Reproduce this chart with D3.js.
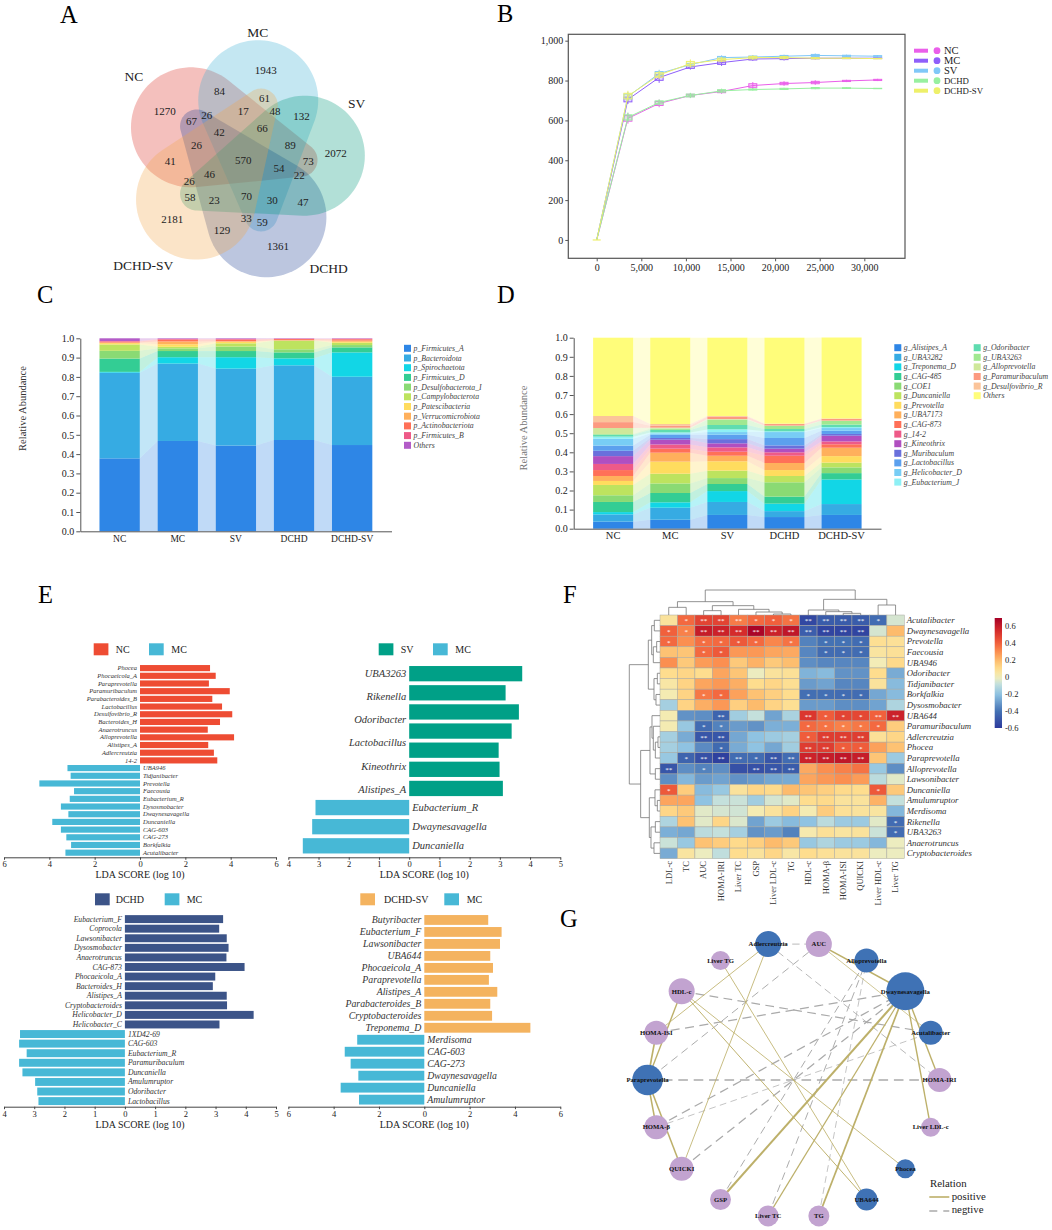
<!DOCTYPE html>
<html>
<head>
<meta charset="utf-8">
<script src="https://cdn.jsdelivr.net/npm/d3@7"></script>
<style>
  body { margin: 0; background: #fff; }
  svg { display: block; font-family: "Liberation Serif", serif; }
  text { fill: #222; }
</style>
</head>
<body>
<div id="chart"></div>
<script>
// A - venn
const vennSets = ['MC', 'SV', 'DCHD', 'DCHD-SV', 'NC']
const vennColors = ['#3dafd4', '#00977c', '#204194', '#f2a548', '#da2d23']
const vennSingle = [1943, 2072, 1361, 2181, 1270]
const vennOuter = [84, 132, 47, 129, 41]
const vennTips = [61, 73, 59, 58, 67]
const vennSide = [26, 48, 22, 33, 26]
const vennInner = [17, 89, 30, 23, 26]
const vennCore = [42, 66, 54, 70, 46]
const vennAll = 570

// B - rarefaction
const depths = [0, 3500, 7000, 10500, 14000, 17500, 21000, 24500, 28000, 31500]
const rareGroups = ['NC', 'MC', 'SV', 'DCHD', 'DCHD-SV']
const rareNC = [0, 610, 685, 725, 745, 775, 785, 790, 798, 803]
const rareMC = [0, 705, 815, 868, 890, 908, 910, 912, 912, 912]
const rareSV = [0, 720, 835, 880, 915, 918, 922, 926, 924, 922]
const rareDCHD = [0, 615, 690, 725, 748, 755, 758, 762, 762, 760]
const rareDCHDSV = [0, 722, 828, 885, 905, 915, 915, 912, 912, 910]
const spreadNC = [0, 14, 10, 6, 6, 9, 6, 6, 3, 3]
const spreadMC = [0, 12, 14, 7, 9, 5, 5, 3, 2, 2]
const spreadSV = [0, 12, 10, 6, 6, 5, 4, 5, 3, 3]
const spreadDCHD = [0, 13, 8, 7, 6, 3, 3, 3, 2, 1]
const spreadDCHDSV = [0, 14, 11, 11, 7, 6, 5, 3, 2, 1]
const rareColors = ['#ea5fea', '#8f5ffa', '#80c8f8', '#98f0a0', '#eef06a']

// C - phyla
const groups = ['NC', 'MC', 'SV', 'DCHD', 'DCHD-SV']
const phyla = ['p_Firmicutes_A', 'p_Bacteroidota', 'p_Spirochaetota', 'p_Firmicutes_D', 'p_Desulfobacterota_I',
  'p_Campylobacterota', 'p_Patescibacteria', 'p_Verrucomicrobiota', 'p_Actinobacteriota', 'p_Firmicutes_B', 'Others']
const phylaNC = [.378, .444, .004, .069, .04, .033, .007, .003, .005, .003, .014]
const phylaMC = [.468, .401, .033, .032, .014, .008, .013, .015, .009, .004, .003]
const phylaSV = [.444, .399, .059, .032, .023, .017, .008, .003, .008, .004, .003]
const phylaDCHD = [.473, .387, .036, .031, .016, .045, .001, .001, .006, .002, .002]
const phylaDCHDSV = [.447, .354, .126, .026, .012, .012, .005, .006, .007, .003, .002]
const phylaColors = ['#2e86e6', '#36abe3', '#12d6e6', '#33cd94', '#8ada74', '#bde35f', '#ffdc5e', '#ffb05c', '#ff7058', '#ee5a88', '#b35cc8']

// D - genera
const genera = ['g_Alistipes_A', 'g_UBA3282', 'g_Treponema_D', 'g_CAG-485', 'g_COE1', 'g_Duncaniella', 'g_Prevotella',
  'g_UBA7173', 'g_CAG-873', 'g_14-2', 'g_Kineothrix', 'g_Muribaculum', 'g_Lactobacillus', 'g_Helicobacter_D',
  'g_Eubacterium_J', 'g_Odoribacter', 'g_UBA3263', 'g_Alloprevotella', 'g_Paramuribaculum', 'g_Desulfovibrio_R', 'Others']
const generaNC = [.037, .038, .012, .053, .035, .054, .021, .026, .031, .032, .041, .028, .027, .036, .011, .010, .004, .031, .031, .032, .41]
const generaMC = [.047, .063, .028, .049, .050, .051, .063, .047, .021, .022, .025, .009, .017, .007, .005, .013, .007, .005, .010, .009, .452]
const generaSV = [.072, .068, .057, .037, .031, .039, .049, .029, .021, .023, .021, .022, .023, .014, .014, .023, .028, .003, .012, .004, .41]
const generaDCHD = [.061, .031, .039, .037, .075, .033, .031, .037, .038, .018, .019, .017, .039, .031, .004, .012, .016, .002, .008, .002, .45]
const generaDCHDSV = [.072, .057, .129, .033, .030, .025, .034, .044, .018, .015, .030, .009, .017, .014, .005, .013, .020, .001, .009, .002, .424]
const generaColors = ['#2e86e6', '#36abe3', '#12d6e6', '#33cd94', '#8ada74', '#bde35f', '#ffdc5e', '#ffb05c', '#ff7058', '#ee5a88',
  '#b04fc0', '#6a70dc', '#5ca0ee', '#78cdf5', '#8ef0f5', '#5fdcb0', '#a0e890', '#cfe89a', '#fc9a80', '#fbc49a', '#fffd7a']

// E - LDA
const ldaNames1 = ['Phocea', 'Phocaeicola_A', 'Paraprevotella', 'Paramuribaculum', 'Parabacteroides_B', 'Lactobacillus', 'Desulfovibrio_R',
  'Bacteroides_H', 'Anaerotruncus', 'Alloprevotella', 'Alistipes_A', 'Adlercreutzia', '14-2']
const ldaScores1 = [3.09, 3.34, 3.04, 3.96, 3.19, 3.62, 4.07, 3.53, 2.99, 4.15, 3.01, 3.26, 3.41]
const ldaMcNames1 = ['UBA946', 'Tidjanibacter', 'Prevotella', 'Faecousia', 'Eubacterium_R', 'Dysosmobacter', 'Dwaynesavagella', 'Duncaniella',
  'CAG-603', 'CAG-273', 'Borkfalkia', 'Acutalibacter']
const ldaMcScores1 = [3.2, 3.06, 4.44, 2.91, 3.1, 3.49, 3.16, 3.87, 3.49, 3.25, 3.04, 3.29]

const ldaNames2 = ['UBA3263', 'Rikenella', 'Odoribacter', 'Lactobacillus', 'Kineothrix', 'Alistipes_A']
const ldaScores2 = [3.74, 3.19, 3.63, 3.39, 2.96, 2.99, 3.10]
const ldaMcNames2 = ['Eubacterium_R', 'Dwaynesavagella', 'Duncaniella']
const ldaMcScores2 = [3.1, 3.21, 3.52]

const ldaNames3 = ['Eubacterium_F', 'Coprocola', 'Lawsonibacter', 'Dysosmobacter', 'Anaerotruncus', 'CAG-873', 'Phocaeicola_A', 'Bacteroides_H',
  'Alistipes_A', 'Cryptobacteroides', 'Helicobacter_D', 'Helicobacter_C']
const ldaScores3 = [3.25, 3.12, 3.37, 3.43, 3.36, 3.96, 2.99, 2.91, 3.37, 3.38, 4.26, 3.13]
const ldaMcNames3 = ['1XD42-69', 'CAG-603', 'Eubacterium_R', 'Paramuribaculum', 'Duncaniella', 'Amulumruptor', 'Odoribacter', 'Lactobacillus']
const ldaMcScores3 = [3.47, 3.5, 3.25, 3.5, 3.39, 2.97, 2.9, 2.86]

const ldaNames4 = ['Butyribacter', 'Eubacterium_F', 'Lawsonibacter', 'UBA644', 'Phocaeicola_A', 'Paraprevotella', 'Alistipes_A', 'Parabacteroides_B',
  'Cryptobacteroides', 'Treponema_D']
const ldaScores4 = [2.82, 3.41, 3.34, 2.91, 3.03, 2.85, 3.22, 2.91, 2.99, 4.68]
const ldaMcNames4 = ['Merdisoma', 'CAG-603', 'CAG-273', 'Dwaynesavagella', 'Duncaniella', 'Amulumruptor']
const ldaMcScores4 = [2.96, 3.51, 3.25, 2.91, 3.69, 2.88]

// F - heatmap
const heatCols = ['LDL-c', 'TC', 'AUC', 'HOMA-IRI', 'Liver TC', 'GSP', 'Liver LDL-c', 'TG', 'HDL-c', 'HOMA-β', 'HOMA-ISI', 'QUICKI', 'Liver HDL-c', 'Liver TG']
const heatRows = ['Acutalibacter', 'Dwaynesavagella', 'Prevotella', 'Faecousia', 'UBA946', 'Odoribacter', 'Tidjanibacter', 'Borkfalkia', 'Dysosmobacter',
  'UBA644', 'Paramuribaculum', 'Adlercreutzia', 'Phocea', 'Paraprevotella', 'Alloprevotella', 'Lawsonibacter', 'Duncaniella', 'Amulumruptor',
  'Merdisoma', 'Rikenella', 'UBA3263', 'Anaerotruncus', 'Cryptobacteroides']
const heatValues = [
  [.07, .38, .48, .48, .34, .38, .4, .36, -.55, -.48, -.48, -.48, -.42, -.05],
  [.4, .33, .6, .58, .55, .68, .58, .62, -.47, -.56, -.56, -.56, -.05, .2],
  [.38, .3, .37, .38, .42, .38, .32, .36, -.36, -.4, -.4, -.42, .09, .08],
  [.18, .17, .38, .42, .28, .28, .25, .24, -.35, -.42, -.42, -.42, .06, .08],
  [.3, .16, .27, .3, .16, .22, .16, .19, -.33, -.35, -.35, -.35, .01, .11],
  [.1, .12, .1, .25, .17, -.01, .07, .08, -.24, -.22, -.32, -.32, .1, -.26],
  [.05, .13, .25, .28, .23, .1, .12, .09, -.3, -.28, -.35, -.35, .07, -.22],
  [.02, .13, .35, .38, .26, .18, .14, .1, -.41, -.41, -.42, -.42, -.27, -.22],
  [-.15, .13, .23, .28, .14, .2, .13, .09, -.3, -.3, -.33, -.33, -.28, -.13],
  [.02, -.32, -.33, -.45, -.16, -.08, -.28, -.14, .52, .41, .48, .47, .4, .58],
  [.02, -.18, -.42, -.36, -.3, -.32, -.25, -.25, .38, .36, .33, .35, .38, .15],
  [-.15, -.26, -.5, -.5, -.27, -.2, -.17, -.15, .41, .5, .5, .5, .08, .12],
  [-.15, -.2, -.34, -.43, -.26, -.2, -.27, -.16, .5, .5, .41, .41, .26, .18],
  [-.18, -.45, -.52, -.58, -.42, -.42, -.5, -.42, .58, .6, .62, .6, .17, -.17],
  [-.5, -.33, -.36, -.33, -.52, -.52, -.5, -.48, .24, .3, .33, .36, -.18, -.33],
  [-.33, -.23, -.3, -.28, -.32, -.3, -.27, -.26, .25, .28, .3, .27, -.1, -.03],
  [.42, .15, -.22, -.18, .07, .12, .11, .2, .17, .14, .11, .1, .42, .16],
  [.25, .25, -.2, -.08, -.07, -.16, -.05, -.03, .1, .11, .07, .07, .22, -.08],
  [.12, .16, -.03, -.05, -.06, .02, .07, .13, .02, .15, .08, .07, .06, -.23],
  [-.13, .18, -.03, .12, -.04, -.28, -.17, -.22, -.2, -.1, -.17, -.17, -.03, -.42],
  [-.25, -.27, -.1, -.08, -.15, -.32, -.3, -.36, .03, .08, .06, .07, -.07, -.42],
  [-.07, -.18, .18, .15, .11, .14, .2, .16, -.18, -.13, -.17, -.17, -.23, -.01],
  [-.26, .06, -.01, -.09, .1, .07, .12, .05, .1, .08, .07, .07, -.01, -.01]
]
// 0 none, 1 = *, 2 = **
const heatSig = [
  '01222111222210', '11222222222200', '10111101011100', '00110000011100', '00000000000000',
  '00000000000000', '00000000000000', '00110000111100', '00000000000000', '00020000211122',
  '00110000111110', '00220000122200', '00010000221100', '01222122222200', '20100222000000',
  '00000000000000', '10000000000010', '00000000000000', '00000000000000', '00000000000001',
  '00000000000001', '00000000000000', '00000000000000'
]
const heatColTree = [75,
  [40, [23, 'LDL-c', 'TC'], [28, [13, 'AUC', 'HOMA-IRI'], [17, 'Liver TC', [9, 'GSP', [3, 'Liver LDL-c', 'TG']]]]],
  [47, [15, 'HDL-c', [10, 'HOMA-β', [5, 'HOMA-ISI', 'QUICKI']]], [30, 'Liver HDL-c', 'Liver TG']]]
const heatRowTree = [92,
  [35, [25, [17, 'Acutalibacter', 'Dwaynesavagella'], [20, [10, 'Prevotella', 'Faecousia'], 'UBA946']],
    [18, [8, 'Odoribacter', 'Tidjanibacter'], [12, 'Borkfalkia', 'Dysosmobacter']]],
  [58, [30, [24, 'UBA644', [20, 'Paramuribaculum', [14, [6, 'Adlercreutzia', 'Phocea'], 'Paraprevotella']]], [14, 'Alloprevotella', 'Lawsonibacter']],
    [32, [15, 'Duncaniella', [8, 'Amulumruptor', 'Merdisoma']], [27, [14, 'Rikenella', 'UBA3263'], [18, 'Anaerotruncus', 'Cryptobacteroides']]]]]

// G - network, clockwise from the right hand side
const netNodes = ['HOMA-IRI', 'Liver LDL-c', 'Phocea', 'UBA644', 'TG', 'Liver TC', 'GSP', 'QUICKI', 'HOMA-β', 'Paraprevotella',
  'HOMA-ISI', 'HDL-c', 'Liver TG', 'Adlercreutzia', 'AUC', 'Alloprevotella', 'Dwaynesavagella', 'Acutalibacter']
const netSizes = [12, 9.5, 9.5, 11, 10.5, 10.5, 10.5, 12, 12, 15.3, 12, 13, 9.5, 13, 13, 12, 19, 12]
const netBacteria = ['Phocea', 'UBA644', 'Paraprevotella', 'Adlercreutzia', 'Alloprevotella', 'Dwaynesavagella', 'Acutalibacter']
const netPositive = [
  ['Paraprevotella', 'HDL-c', .58], ['Paraprevotella', 'HOMA-ISI', .62], ['Paraprevotella', 'HOMA-β', .6], ['Paraprevotella', 'QUICKI', .6],
  ['Adlercreutzia', 'HOMA-ISI', .5], ['Adlercreutzia', 'QUICKI', .5], ['Liver TG', 'UBA644', .5], ['HDL-c', 'UBA644', .52], ['HDL-c', 'Phocea', .5],
  ['AUC', 'Dwaynesavagella', .6], ['AUC', 'Acutalibacter', .48], ['GSP', 'Dwaynesavagella', .68], ['Liver TC', 'Dwaynesavagella', .55],
  ['TG', 'Dwaynesavagella', .62], ['Liver LDL-c', 'Dwaynesavagella', .58], ['HOMA-IRI', 'Dwaynesavagella', .58]
]
const netNegative = [
  ['Paraprevotella', 'HOMA-IRI', .58], ['Adlercreutzia', 'AUC', .5], ['Adlercreutzia', 'HOMA-IRI', .5], ['AUC', 'Paraprevotella', .52],
  ['HDL-c', 'Acutalibacter', .55], ['HOMA-ISI', 'Dwaynesavagella', .56], ['HOMA-β', 'Dwaynesavagella', .56], ['HOMA-β', 'Acutalibacter', .48],
  ['QUICKI', 'Dwaynesavagella', .56], ['GSP', 'Alloprevotella', .52], ['Liver TC', 'Alloprevotella', .52], ['TG', 'Alloprevotella', .48]
]

const svg = d3.select('#chart').append('svg').attr('width', 1052).attr('height', 1230)

// panel letters
const letters = [['A', 60, 23], ['B', 497, 22], ['C', 37, 303], ['D', 497, 303], ['E', 38, 603], ['F', 563, 603], ['G', 560, 927]]
svg.selectAll('.letter').data(letters).join('text').attr('class', 'letter')
  .attr('x', d => d[1]).attr('y', d => d[2])
  .attr('font-size', 24.5).style('fill', '#000')
  .text(d => d[0])

function styleAxis(g, size, color) {
  g.attr('font-family', null)
  g.selectAll('text').attr('font-size', size).style('fill', '#222')
  g.selectAll('path,line').attr('stroke', color || '#555')
  return g
}

function drawVenn() {
  const cx = 243.3, cy = 160
  const g = svg.append('g')
  const polar = (r, deg) => [cx + r * Math.cos(deg * Math.PI / 180), cy + r * Math.sin(deg * Math.PI / 180)]
  const step = 72

  // petal = hull of a big outer circle and a small tip circle
  const line = d3.line().curve(d3.curveLinearClosed)
  const order = [4, 0, 2, 1, 3]
  order.forEach(i => {
    const a = -76 + step * i
    const big = polar(61.7, a)
    const tip = polar(57.5, a + 148)
    const pts = []
    d3.range(0, 360, 4).forEach(t => {
      const r = t * Math.PI / 180
      pts.push([big[0] + 60 * Math.cos(r), big[1] + 60 * Math.sin(r)])
      pts.push([tip[0] + 16.7 * Math.cos(r), tip[1] + 16.7 * Math.sin(r)])
    })
    g.append('path').attr('d', line(d3.polygonHull(pts))).attr('fill', vennColors[i]).attr('fill-opacity', 0.3)
  })

  // region counts sit on five fold rotations
  const rings = [[vennSingle, 92.7, -76], [vennOuter, 73, -109], [vennTips, 65, -71], [vennSide, 58, -129], [vennInner, 49.3, -90], [vennCore, 36.7, -131]]
  rings.forEach(([vals, r, start]) => {
    vals.forEach((v, i) => {
      const p = polar(r, start + step * i)
      g.append('text').attr('x', p[0]).attr('y', p[1]).attr('dy', '.35em').attr('text-anchor', 'middle').attr('font-size', 11).text(v)
    })
  })
  g.append('text').attr('x', cx).attr('y', cy).attr('dy', '.35em').attr('text-anchor', 'middle').attr('font-size', 11).text(vennAll)

  const vennNamePos = { MC: [257.7, 37], SV: [356.7, 108], DCHD: [328.7, 273], 'DCHD-SV': [143.3, 270], NC: [134, 81] }
  vennSets.forEach(s => {
    g.append('text').attr('x', vennNamePos[s][0]).attr('y', vennNamePos[s][1]).attr('text-anchor', 'middle').attr('font-size', 13.5).text(s)
  })
}

function drawRarefaction() {
  const x = d3.scaleLinear().domain([-3183, 34560]).range([568.3, 905])
  const y = d3.scaleLinear().domain([-92, 1032]).range([258.3, 34.3])
  const g = svg.append('g')

  g.append('rect').attr('x', 568.3).attr('y', 34.3).attr('width', 336.7).attr('height', 224)
    .attr('fill', 'none').attr('stroke', '#555').attr('stroke-width', 1.2)

  const yAxis = g.append('g').attr('transform', 'translate(568.3,0)')
    .call(d3.axisLeft(y).tickValues([0, 200, 400, 600, 800, 1000]).tickFormat(d3.format(',')).tickSize(3).tickPadding(2))
  styleAxis(yAxis, 10)
  yAxis.select('.domain').remove()
  const xAxis = g.append('g').attr('transform', 'translate(0,258.3)')
    .call(d3.axisBottom(x).tickValues(d3.range(0, 30001, 5000)).tickFormat(d3.format(',')).tickSize(3).tickPadding(3))
  styleAxis(xAxis, 10)
  xAxis.select('.domain').remove()

  const curves = [rareNC, rareMC, rareSV, rareDCHD, rareDCHDSV]
  const spreads = [spreadNC, spreadMC, spreadSV, spreadDCHD, spreadDCHDSV]
  const line = d3.line().x(d => x(d[0])).y(d => y(d[1]))
  curves.forEach((vals, k) => {
    const color = rareColors[k]
    const s = g.append('g')
    const pts = vals.map((v, i) => [depths[i], v, spreads[k][i]])
    s.append('path').attr('d', line(pts)).attr('fill', 'none').attr('stroke', color).attr('stroke-width', 1)
    pts.filter(d => d[0] > 0).forEach(d => {
      s.append('line').attr('x1', x(d[0])).attr('x2', x(d[0])).attr('y1', y(d[1] - d[2] * 1.9)).attr('y2', y(d[1] + d[2] * 1.9))
        .attr('stroke', color).attr('stroke-width', 1)
      s.append('rect').attr('x', x(d[0]) - 4).attr('width', 8)
        .attr('y', y(d[1] + d[2])).attr('height', y(d[1] - d[2]) - y(d[1] + d[2]))
        .attr('fill', color).attr('fill-opacity', 0.25).attr('stroke', color).attr('stroke-width', 1)
    })
  })
  // flat box at the origin
  g.append('line').attr('x1', x(0) - 4).attr('x2', x(0) + 4).attr('y1', y(0)).attr('y2', y(0)).attr('stroke', rareColors[4]).attr('stroke-width', 1.2)

  rareGroups.forEach((name, i) => {
    const ly = 50.7 + i * 10
    g.append('rect').attr('x', 914).attr('y', ly - 2).attr('width', 14).attr('height', 4).attr('fill', rareColors[i])
    g.append('circle').attr('cx', 937).attr('cy', ly).attr('r', 3.4).attr('fill', rareColors[i])
    g.append('text').attr('x', 944).attr('y', ly).attr('dy', '.33em').attr('font-size', name.startsWith('DCHD') ? 8.8 : 10.5).text(name)
  })
}

function drawStack(o) {
  const g = svg.append('g')
  const x = d3.scaleBand().domain(groups).range(o.xRange).paddingInner(o.pad).paddingOuter(o.padOuter)
  const y = d3.scaleLinear().domain([0, 1]).range([o.y0, o.y1])
  const layers = d3.stack().keys(d3.range(o.names.length)).value((d, k) => d[k])(o.rows)

  // ribbons between neighbouring bars
  const ribbon = d3.area().x(d => d.x).y0(d => d.lo).y1(d => d.hi)
  layers.forEach((layer, k) => {
    d3.pairs(groups.map((_, i) => i)).forEach(([a, b]) => {
      g.append('path').attr('fill', o.colors[k]).attr('fill-opacity', 0.3)
        .attr('d', ribbon([
          { x: x(groups[a]) + x.bandwidth(), lo: y(layer[a][0]), hi: y(layer[a][1]) },
          { x: x(groups[b]), lo: y(layer[b][0]), hi: y(layer[b][1]) }
        ]))
    })
    g.selectAll(null).data(layer).join('rect')
      .attr('x', (d, i) => x(groups[i])).attr('width', x.bandwidth())
      .attr('y', d => y(d[1])).attr('height', d => y(d[0]) - y(d[1]))
      .attr('fill', o.colors[k])
  })

  const yAxis = g.append('g').attr('transform', `translate(${o.xRange[0]},0)`)
    .call(d3.axisLeft(y).tickValues(d3.range(0, 11).map(d => d / 10)).tickFormat(d3.format('.1f')).tickSize(4).tickSizeOuter(0).tickPadding(2))
  styleAxis(yAxis, 10)
  const xAxis = g.append('g').attr('transform', `translate(0,${o.y0})`)
    .call(d3.axisBottom(x).tickSize(0).tickPadding(o.xPad))
  styleAxis(xAxis, o.xFont)

  g.append('text').attr('transform', `translate(${o.titleX},${o.titleY}) rotate(-90)`)
    .attr('text-anchor', 'middle').attr('font-size', 10.5).style('fill', o.titleColor).text('Relative Abundance')

  o.names.forEach((name, i) => {
    const col = Math.floor(i / o.legendRows)
    const row = i % o.legendRows
    const ly = o.legendY + row * o.legendStep
    g.append('rect').attr('x', o.legendX[col]).attr('y', ly - 3.5).attr('width', 7).attr('height', 7).attr('fill', o.colors[i])
    g.append('text').attr('x', o.legendX[col] + 9.5).attr('y', ly).attr('dy', '.33em')
      .attr('font-size', 7.8).attr('font-style', 'italic').style('fill', '#444').text(name)
  })
}

function drawLda(o) {
  const g = svg.append('g')
  const x = d3.scaleLinear().domain(o.domain).range(o.xRange)
  const y = d3.scaleBand().domain(d3.range(o.scores.length + o.mcScores.length)).range(o.yRange).padding(o.pad)
  const n = o.scores.length

  g.selectAll(null).data(o.scores).join('rect')
    .attr('x', x(0)).attr('y', (d, i) => y(i)).attr('height', y.bandwidth())
    .attr('width', d => x(d) - x(0)).attr('fill', o.color)
  g.selectAll(null).data(o.mcScores).join('rect')
    .attr('x', d => x(-d)).attr('y', (d, i) => y(n + i)).attr('height', y.bandwidth())
    .attr('width', d => x(0) - x(-d)).attr('fill', '#47b8d6')

  const label = t => t.attr('font-size', o.font).attr('font-style', 'italic').style('fill', '#333').attr('dy', '.33em')
  if (o.labelRange) {
    const ly = d3.scalePoint().domain(o.names).range(o.labelRange)
    g.selectAll(null).data(o.names).join('text').attr('x', x(0) - 3).attr('y', d => ly(d)).attr('text-anchor', 'end').call(label).text(d => d)
  } else {
    g.selectAll(null).data(o.names).join('text').attr('x', x(0) - 3).attr('y', (d, i) => y(i) + y.bandwidth() / 2).attr('text-anchor', 'end').call(label).text(d => d)
  }
  g.selectAll(null).data(o.mcNames).join('text').attr('x', x(0) + 3).attr('y', (d, i) => y(n + i) + y.bandwidth() / 2).call(label).text(d => d)

  const axis = g.append('g').attr('transform', `translate(0,${o.yRange[1]})`)
    .call(d3.axisBottom(x).tickValues(o.ticks).tickFormat(d => Math.abs(d)).tickSize(2.5).tickSizeOuter(0).tickPadding(1.5))
  styleAxis(axis, 8.5, '#444')

  g.append('text').attr('x', o.titleX).attr('y', o.yRange[1] + 20.8).attr('text-anchor', 'middle').attr('font-size', 10)
    .text('LDA SCORE (log 10)')

  const legY = o.legendY
  g.append('rect').attr('x', o.legend[0]).attr('y', legY).attr('width', 14.7).attr('height', 12).attr('fill', o.color)
  g.append('text').attr('x', o.legend[1]).attr('y', legY + 9.4).attr('font-size', 10).text(o.group)
  g.append('rect').attr('x', o.legend[2]).attr('y', legY).attr('width', 14.7).attr('height', 12).attr('fill', '#47b8d6')
  g.append('text').attr('x', o.legend[3]).attr('y', legY + 9.4).attr('font-size', 10).text('MC')
}

// walks a nested [height, left, right] tree and appends its brackets to a path
function treePath(node, pos, h, path, vertical) {
  if (typeof node === 'string') return { p: pos(node), v: h(0) }
  const a = treePath(node[1], pos, h, path, vertical)
  const b = treePath(node[2], pos, h, path, vertical)
  const v = h(node[0])
  const pt = (p, q) => vertical ? [p, q] : [q, p]
  path.moveTo(...pt(a.p, a.v))
  path.lineTo(...pt(a.p, v))
  path.lineTo(...pt(b.p, v))
  path.lineTo(...pt(b.p, b.v))
  return { p: (a.p + b.p) / 2, v }
}

function drawHeatmap() {
  const g = svg.append('g')
  const x = d3.scaleBand().domain(heatCols).range([660, 904.3])
  const y = d3.scaleBand().domain(heatRows).range([615, 858.7])
  const color = d3.scaleLinear()
    .domain([-.6, -.4, -.2, -.08, 0, .1, .2, .3, .4, .55, .7])
    .range(['#2c3a9c', '#4472b4', '#8fc3e2', '#c4e0dc', '#f2eebb', '#fedd8e', '#fdbb6c', '#fb8f50', '#f1603c', '#d52b2b', '#a50026'])

  heatValues.forEach((row, r) => {
    row.forEach((v, c) => {
      g.append('rect').attr('x', x(heatCols[c])).attr('y', y(heatRows[r]))
        .attr('width', x.bandwidth()).attr('height', y.bandwidth())
        .attr('fill', color(v)).attr('stroke', '#a8a8a0').attr('stroke-width', 0.5)
      const s = +heatSig[r][c]
      if (s) {
        g.append('text').attr('x', x(heatCols[c]) + x.bandwidth() / 2).attr('y', y(heatRows[r]) + y.bandwidth() / 2 + 3.2)
          .attr('text-anchor', 'middle').attr('font-size', 7).style('fill', '#fff').text('*'.repeat(s))
      }
    })
  })

  g.selectAll(null).data(heatRows).join('text').attr('x', 906.7).attr('y', d => y(d) + y.bandwidth() / 2).attr('dy', '.33em')
    .attr('font-size', 8.8).attr('font-style', 'italic').style('fill', '#333').text(d => d)
  g.selectAll(null).data(heatCols).join('text')
    .attr('transform', d => `translate(${x(d) + x.bandwidth() / 2},861) rotate(-90)`)
    .attr('dy', '.33em').attr('text-anchor', 'end').attr('font-size', 8.5).style('fill', '#333').text(d => d)

  const colPath = d3.path()
  treePath(heatColTree, d => x(d) + x.bandwidth() / 2, d3.scaleLinear().domain([0, 75]).range([615, 590]), colPath, true)
  g.append('path').attr('d', colPath.toString()).attr('fill', 'none').attr('stroke', '#777').attr('stroke-width', 0.8)
  const rowPath = d3.path()
  treePath(heatRowTree, d => y(d) + y.bandwidth() / 2, d3.scaleLinear().domain([0, 92]).range([660, 629.3]), rowPath, false)
  g.append('path').attr('d', rowPath.toString()).attr('fill', 'none').attr('stroke', '#777').attr('stroke-width', 0.8)

  // colour bar
  const bar = d3.scaleLinear().domain([-.6, .7]).range([728, 618])
  const grad = svg.append('defs').append('linearGradient').attr('id', 'heatbar').attr('x1', 0).attr('x2', 0).attr('y1', 1).attr('y2', 0)
  d3.range(0, 1.001, .05).forEach(t => {
    grad.append('stop').attr('offset', t).attr('stop-color', color(-.6 + 1.3 * t))
  })
  g.append('rect').attr('x', 994.7).attr('y', 618).attr('width', 7.3).attr('height', 110).attr('fill', 'url(#heatbar)')
  g.selectAll(null).data([-.6, -.4, -.2, 0, .2, .4, .6]).join('text')
    .attr('x', 1005).attr('y', d => bar(d)).attr('dy', '.33em').attr('font-size', 8.5).text(d => d)
}

function drawNetwork() {
  const g = svg.append('g')
  const cx = 793.5, cy = 1080
  const angle = d3.scaleLinear().domain([0, netNodes.length]).range([0, 2 * Math.PI])
  const pos = {}
  netNodes.forEach((n, i) => {
    pos[n] = { x: cx + 146 * Math.cos(angle(i)), y: cy + 138 * Math.sin(angle(i)), r: netSizes[i] }
  })
  const width = d3.scaleLinear().domain([.48, .68]).range([.7, 2.1])

  netNegative.forEach(e => {
    const w = width(e[2])
    g.append('line').attr('x1', pos[e[0]].x).attr('y1', pos[e[0]].y).attr('x2', pos[e[1]].x).attr('y2', pos[e[1]].y)
      .attr('stroke', '#aaa').attr('stroke-width', w).attr('stroke-dasharray', `${4 + w * 4} ${3 + w * 2}`)
  })
  netPositive.forEach(e => {
    g.append('line').attr('x1', pos[e[0]].x).attr('y1', pos[e[0]].y).attr('x2', pos[e[1]].x).attr('y2', pos[e[1]].y)
      .attr('stroke', '#bdb06a').attr('stroke-width', width(e[2]))
  })

  netNodes.forEach(n => {
    g.append('circle').attr('cx', pos[n].x).attr('cy', pos[n].y).attr('r', pos[n].r)
      .attr('fill', netBacteria.includes(n) ? '#3f72b5' : '#c2a3d0')
    g.append('text').attr('x', pos[n].x).attr('y', pos[n].y).attr('dy', '.33em').attr('text-anchor', 'middle')
      .attr('font-size', 6.7).attr('font-weight', 'bold').style('fill', '#111').text(n)
  })

  g.append('text').attr('x', 930).attr('y', 1186.7).attr('font-size', 10.8).text('Relation')
  g.append('line').attr('x1', 929.3).attr('x2', 949.3).attr('y1', 1197).attr('y2', 1197).attr('stroke', '#bdb06a').attr('stroke-width', 1.6)
  g.append('text').attr('x', 951.7).attr('y', 1199.7).attr('font-size', 10.8).text('positive')
  g.append('line').attr('x1', 929.3).attr('x2', 949.3).attr('y1', 1211).attr('y2', 1211).attr('stroke', '#aaa').attr('stroke-width', 1.6).attr('stroke-dasharray', '8 6')
  g.append('text').attr('x', 951.7).attr('y', 1213.3).attr('font-size', 10.8).text('negtive')
}

drawVenn()
drawRarefaction()
drawStack({
  names: phyla, colors: phylaColors, rows: [phylaNC, phylaMC, phylaSV, phylaDCHD, phylaDCHDSV],
  xRange: [80.3, 391.5], pad: .306, padOuter: .33, y0: 531.3, y1: 338.3, xFont: 9.5, xPad: 4,
  titleX: 26, titleY: 408.5, titleColor: '#333',
  legendX: [404], legendY: 348.3, legendStep: 9.7, legendRows: 11
})
drawStack({
  names: genera, colors: generaColors, rows: [generaNC, generaMC, generaSV, generaDCHD, generaDCHDSV],
  xRange: [573.7, 881], pad: .298, padOuter: .34, y0: 528.7, y1: 337.7, xFont: 10.5, xPad: 3,
  titleX: 527, titleY: 428, titleColor: '#777',
  legendX: [894.3, 973.7], legendY: 347.7, legendStep: 9.6, legendRows: 15
})
drawLda({
  group: 'NC', color: '#ee4c33', names: ldaNames1, scores: ldaScores1, mcNames: ldaMcNames1, mcScores: ldaMcScores1,
  domain: [-6, 6], xRange: [4, 276], yRange: [663.5, 857.3], pad: .2, ticks: [-6, -4, -2, 0, 2, 4, 6], font: 6.5,
  titleX: 140, legendY: 643.3, legend: [93.7, 115.7, 149, 171.3]
})
drawLda({
  group: 'SV', color: '#00a087', names: ldaNames2, labelRange: [673.3, 789.3], scores: ldaScores2, mcNames: ldaMcNames2, mcScores: ldaMcScores2,
  domain: [-4, 5], xRange: [288.3, 560.3], yRange: [662.2, 857.3], pad: .2, ticks: d3.range(-4, 6), font: 10.5,
  titleX: 424.3, legendY: 643.3, legend: [378.7, 400.7, 433, 455.3]
})
drawLda({
  group: 'DCHD', color: '#3c5488', names: ldaNames3, scores: ldaScores3, mcNames: ldaMcNames3, mcScores: ldaMcScores3,
  domain: [-4, 5], xRange: [4, 276], yRange: [913.5, 1106.7], pad: .17, ticks: d3.range(-4, 6), font: 7.7,
  titleX: 140, legendY: 893.3, legend: [95, 115.7, 164.7, 186.7]
})
drawLda({
  group: 'DCHD-SV', color: '#f4b35f', names: ldaNames4, scores: ldaScores4, mcNames: ldaMcNames4, mcScores: ldaMcScores4,
  domain: [-6, 6], xRange: [288.3, 560.3], yRange: [912.9, 1106.7], pad: .18, ticks: [-6, -4, -2, 0, 2, 4, 6], font: 9.8,
  titleX: 424.3, legendY: 893.3, legend: [360.3, 384, 444.3, 466.7]
})
drawHeatmap()
drawNetwork()
</script>
</body>
</html>
